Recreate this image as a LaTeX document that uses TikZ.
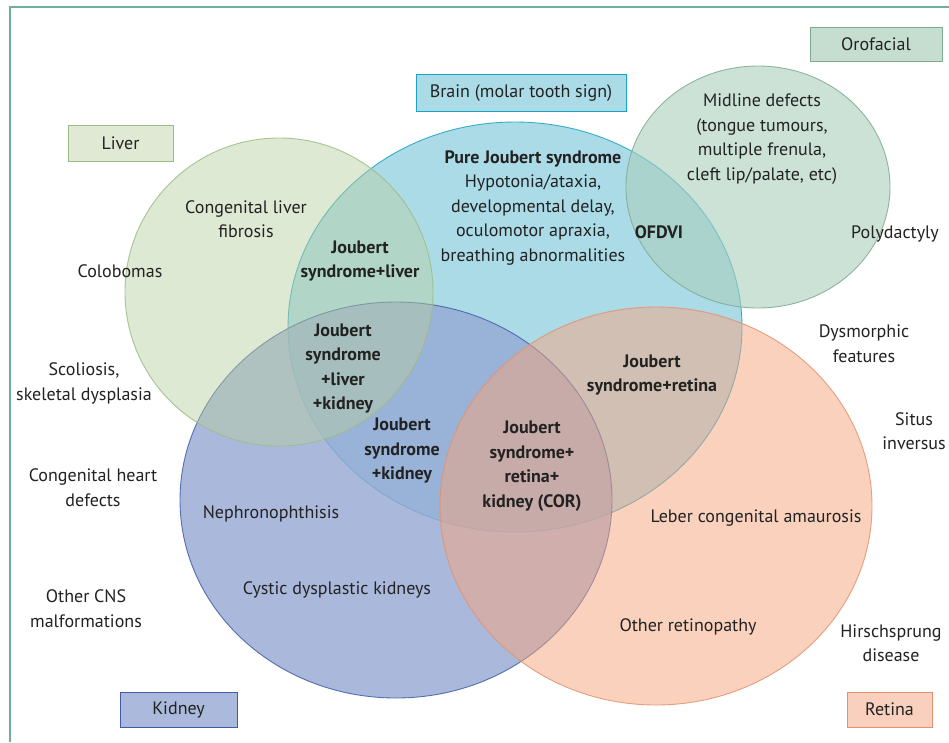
\documentclass[tikz,border=0pt]{standalone}
\usepackage{fontspec}
\setmainfont{PT Sans}
\definecolor{txt}{HTML}{222222}
\definecolor{frameC}{HTML}{6FAE9C}
\definecolor{liverF}{RGB}{184,207,160}
\definecolor{liverD}{HTML}{9DBC85}
\definecolor{brainF}{RGB}{117,195,217}
\definecolor{brainD}{HTML}{1AA3C2}
\definecolor{oroF}{RGB}{170,207,188}
\definecolor{oroD}{HTML}{7FAA92}
\definecolor{kidF}{RGB}{149,168,211}
\definecolor{kidD}{HTML}{3F5DA6}
\definecolor{retF}{RGB}{245,165,125}
\definecolor{retD}{HTML}{E5906F}
\definecolor{liverB}{HTML}{DFE9D4}
\definecolor{brainB}{HTML}{ACDBE8}
\definecolor{oroB}{HTML}{C6DED0}
\definecolor{kidB}{HTML}{AAB9DC}
\definecolor{retB}{HTML}{F9D0BD}
\begin{document}
\begin{tikzpicture}[x=1pt,y=-1pt,
  lbl/.style={font=\fontsize{18}{24.5}\selectfont, align=center, text=txt, inner sep=0pt},
  bl/.style={lbl, font=\bfseries\fontsize{18}{24.5}\selectfont},
  setarea/.style={fill opacity=0.6, draw opacity=0.85, line width=0.9pt},
  catbox/.style={lbl, draw, line width=1pt, inner sep=0pt}]
\useasboundingbox (0,0) rectangle (949,742);
\fill[white] (0,0) rectangle (949,742);
\draw[frameC, line width=1.2pt] (949,7) -- (10,7) -- (10,742);
% sets
\draw[setarea, fill=brainF, draw=brainD] (515,327) ellipse [x radius=227, y radius=205];
\draw[setarea, fill=kidF, draw=kidD, fill opacity=0.8] (396,500) ellipse [x radius=216, y radius=198];
\draw[setarea, fill=liverF, draw=liverD, fill opacity=0.45] (279,292) ellipse [x radius=154, y radius=154];
\draw[setarea, fill=oroF, draw=oroD] (758,187) ellipse [x radius=132, y radius=121];
\draw[setarea, fill=retF, draw=retD, fill opacity=0.5] (656,506) ellipse [x radius=216, y radius=199];
% category boxes
\node[catbox, fill=liverB, draw=liverD, minimum width=105pt, minimum height=36pt] (liverbox) at (120.5,143) {Liver};
\node[catbox, fill=brainB, draw=brainD, minimum width=210pt, minimum height=37pt] (brainbox) at (521,93) {Brain (molar tooth sign)};
\node[catbox, fill=oroB, draw=oroD, minimum width=132pt, minimum height=34pt] (orobox) at (876,44) {Orofacial};
\node[catbox, fill=kidB, draw=kidD, minimum width=117pt, minimum height=35pt] (kidbox) at (178.5,709.5) {Kidney};
\node[catbox, fill=retB, draw=retD, minimum width=85pt, minimum height=35pt] (retbox) at (889.5,709.5) {Retina};
% labels
\node[lbl] (clf) at (246,219) {Congenital liver\\fibrosis};
\node[lbl] (colo) at (120,271) {Colobomas};
\node[lbl] (scol) at (84,383.5) {Scoliosis,\\skeletal dysplasia};
\node[lbl] (heart) at (93,487.5) {Congenital heart\\defects};
\node[lbl] (cns) at (86,608.5) {Other CNS\\malformations};
\node[bl] (jsl) at (360,261) {Joubert\\syndrome+liver};
\node[lbl] (pure) at (533,208) {\textbf{Pure Joubert syndrome}\\Hypotonia/ataxia,\\developmental delay,\\oculomotor apraxia,\\breathing abnormalities};
\node[bl] (ofd) at (659,232) {OFDVI};
\node[lbl] (mid) at (762,139) {Midline defects\\(tongue tumours,\\multiple frenula,\\cleft lip/palate, etc)};
\node[lbl] (poly) at (895,234) {Polydactyly};
\node[bl] (jslk) at (343,368.5) {Joubert\\syndrome\\+liver\\+kidney};
\node[bl] (jsk) at (402,451) {Joubert\\syndrome\\+kidney};
\node[bl] (jsr) at (652,375) {Joubert\\syndrome+retina};
\node[bl] (cor) at (532,466) {Joubert\\syndrome+\\retina+\\kidney (COR)};
\node[lbl] (dys) at (864,343.5) {Dysmorphic\\features};
\node[lbl] (situs) at (914,431) {Situs\\inversus};
\node[lbl] (neph) at (271,514) {Nephronophthisis};
\node[lbl] (cyst) at (337,590) {Cystic dysplastic kidneys};
\node[lbl] (leber) at (756,518) {Leber congenital amaurosis};
\node[lbl] (oret) at (688,627) {Other retinopathy};
\node[lbl] (hirsch) at (891,643) {Hirschsprung\\disease};
\end{tikzpicture}
\end{document}
